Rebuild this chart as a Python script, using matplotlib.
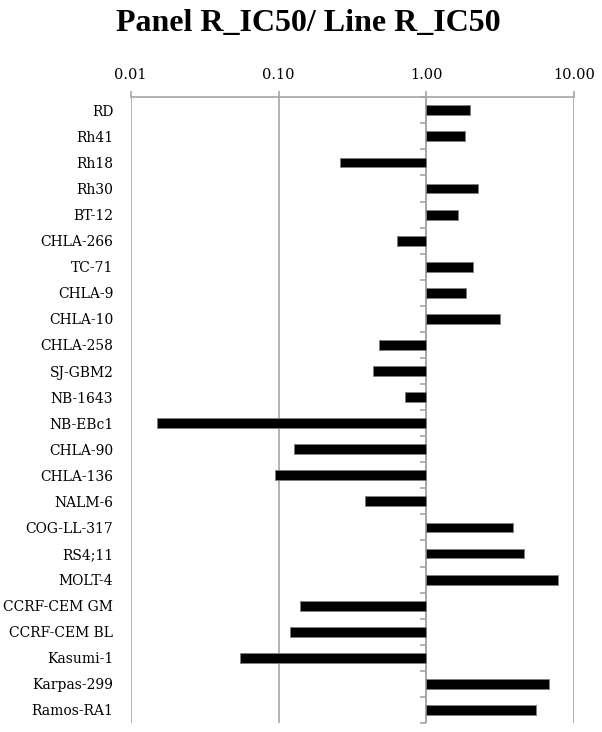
import matplotlib

matplotlib.use("Agg")
import matplotlib.pyplot as plt
from matplotlib.lines import TICKLEFT
import numpy as np

# Panel R_IC50 / Line R_IC50 per cell line
cell_lines = [
    "RD", "Rh41", "Rh18", "Rh30", "BT-12", "CHLA-266", "TC-71", "CHLA-9",
    "CHLA-10", "CHLA-258", "SJ-GBM2", "NB-1643", "NB-EBc1", "CHLA-90",
    "CHLA-136", "NALM-6", "COG-LL-317", "RS4;11", "MOLT-4", "CCRF-CEM GM",
    "CCRF-CEM BL", "Kasumi-1", "Karpas-299", "Ramos-RA1",
]
ratio = [
    1.98, 1.82, 0.259, 2.23, 1.64, 0.637, 2.07, 1.84,
    3.13, 0.478, 0.435, 0.717, 0.0151, 0.127,
    0.0953, 0.383, 3.85, 4.57, 7.72, 0.139,
    0.119, 0.0552, 6.75, 5.54,
]
x_ticks = [0.01, 0.1, 1.0, 10.0]
x_ticklabels = ["0.01", "0.10", "1.00", "10.00"]

GRAY = "#a6a6a6"
FONT = "DejaVu Serif"
TITLE_FONT = "Liberation Serif"

fig = plt.figure(figsize=(6.02, 7.32), dpi=100)
ax = fig.add_axes([0.217, 0.0123, 0.737, 0.8548])

ypos = np.arange(len(cell_lines))
vals = np.array(ratio)
ax.barh(ypos, vals - 1.0, left=1.0, height=0.38, color="black",
        edgecolor="#808080", linewidth=0.6, zorder=3)

ax.set_xscale("log")
ax.set_xlim(0.01, 10)
ax.set_ylim(len(cell_lines) - 0.5, -0.5)

# value axis on top
ax.xaxis.set_ticks_position("top")
ax.set_xticks(x_ticks)
ax.set_xticklabels(x_ticklabels, fontsize=10.5, family=FONT)
ax.xaxis.set_minor_locator(matplotlib.ticker.NullLocator())
ax.tick_params(axis="x", which="major", direction="out", length=4,
               color=GRAY, width=1.2, pad=7)
ax.grid(axis="x", color=GRAY, linewidth=1.2, zorder=0)

# category labels on the left, category axis line crossing at 1.0
ax.set_yticks(ypos)
ax.set_yticklabels(cell_lines, fontsize=10, family=FONT)
ax.tick_params(axis="y", length=0, pad=12.5)
ax.axvline(1.0, color=GRAY, linewidth=1.2, zorder=2)
ax.plot(np.ones(len(cell_lines) + 1), np.arange(len(cell_lines) + 1) - 0.5,
        linestyle="none", marker=TICKLEFT, markersize=4, markeredgewidth=1.2,
        color=GRAY, zorder=2, clip_on=False)

for side in ("left", "right", "bottom"):
    ax.spines[side].set_visible(False)
ax.spines["top"].set_color(GRAY)
ax.spines["top"].set_linewidth(1.2)

fig.text(0.5116, 1 - 31 / 732, "Panel R_IC50/ Line R_IC50", ha="center",
         va="baseline", fontsize=23, fontweight="bold", family=TITLE_FONT)

fig.savefig("out.png", dpi=100)
